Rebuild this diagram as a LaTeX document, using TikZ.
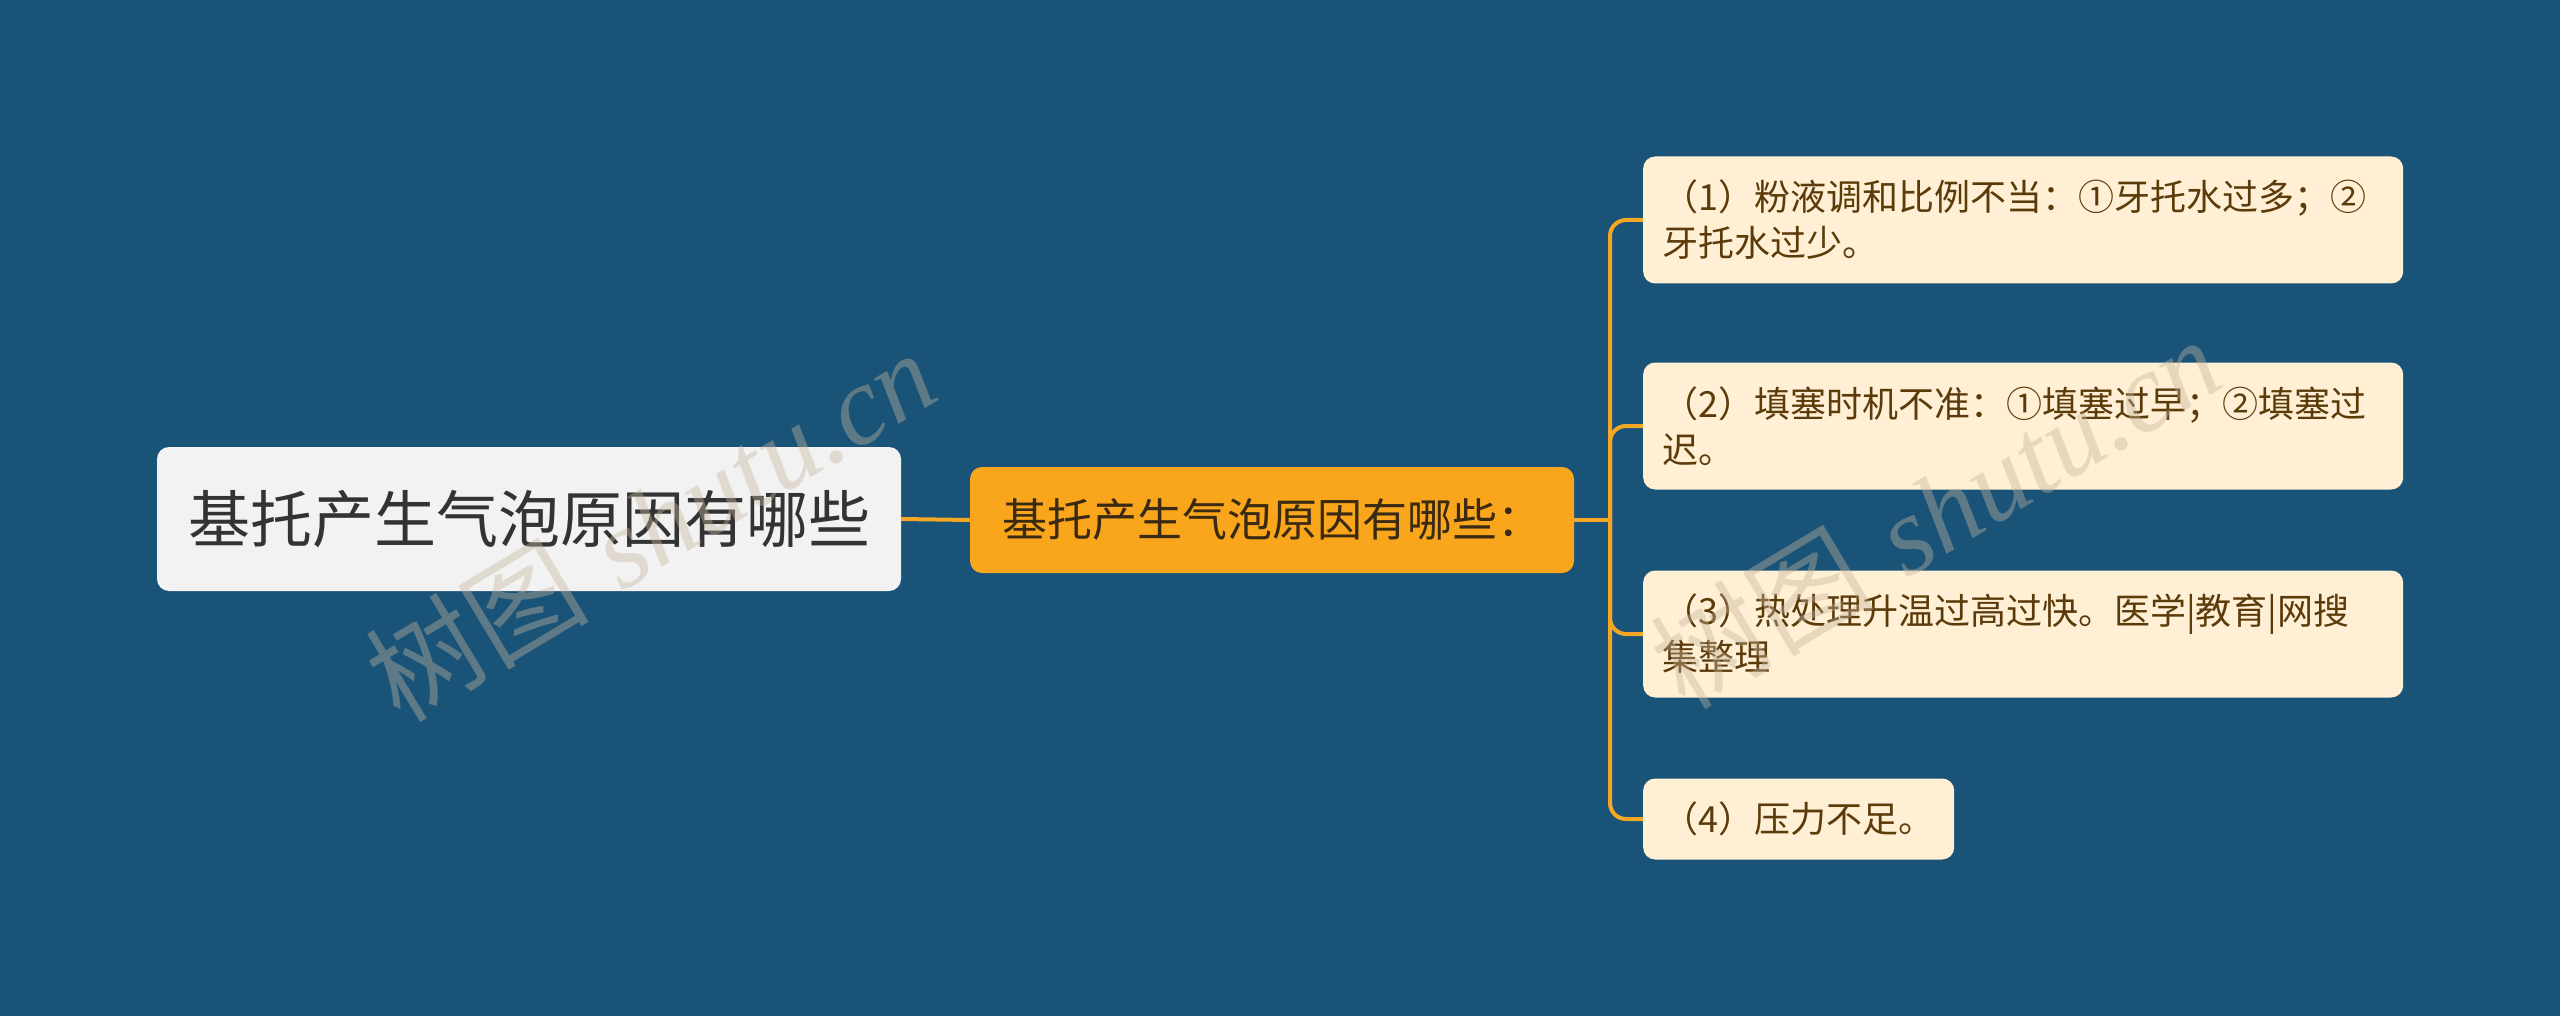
\documentclass[tikz,border=0pt]{standalone}
\usepackage{fontspec}
\newfontfamily\cjk{Noto Sans CJK SC}
\newfontfamily\wmfont{Liberation Serif}
\definecolor{bgblue}{HTML}{1A5378}
\definecolor{linkorange}{HTML}{F5A623}
\definecolor{rootfill}{HTML}{F2F2F2}
\definecolor{midfill}{HTML}{F9A61C}
\definecolor{leaffill}{HTML}{FFEFD4}
\definecolor{roottext}{HTML}{333333}
\definecolor{midtext}{HTML}{3A2A12}
\definecolor{leaftext}{HTML}{5C3B0B}
\definecolor{wmcolor}{HTML}{C4B59C}
\tikzset{
  rootbox/.style={fill=rootfill, rounded corners=12pt, inner sep=0pt,
    minimum width=744pt, minimum height=144pt, text=roottext,
    font=\cjk\fontsize{62pt}{70pt}\selectfont},
  midbox/.style={fill=midfill, rounded corners=12pt, inner sep=0pt,
    minimum width=604pt, minimum height=106pt, text=midtext,
    font=\cjk\fontsize{45pt}{52pt}\selectfont},
  leafbox/.style={fill=leaffill, rounded corners=12pt, inner xsep=19pt, inner ysep=0pt,
    anchor=west, minimum height=127pt, text=leaftext, align=left,
    font=\cjk\fontsize{36pt}{46pt}\selectfont},
  link/.style={draw=linkorange, line width=4pt},
  wm/.style={text=wmcolor, opacity=0.4, rotate=31, font=\fontsize{112pt}{112pt}\selectfont}
}
\begin{document}
\begin{tikzpicture}[x=1pt,y=-1pt]
\fill[bgblue] (0,0) rectangle (2560,1016);
\useasboundingbox (0,0) rectangle (2560,1016);

\node[rootbox] (root) at (529,519) {基托产生气泡原因有哪些};
\node[midbox] (mid) at (1272,520) {基托产生气泡原因有哪些：};

\node[leafbox, minimum width=760pt, text width=722pt] (c1) at (1643,220)
  {（1）粉液调和比例不当：①牙托水过多；②\\牙托水过少。};
\node[leafbox, minimum width=760pt, text width=722pt] (c2) at (1643,426)
  {（2）填塞时机不准：①填塞过早；②填塞过\\迟。};
\node[leafbox, minimum width=760pt, text width=722pt] (c3) at (1643,634)
  {（3）热处理升温过高过快。医学|教育|网搜\\集整理};
\node[leafbox, minimum width=311pt, minimum height=81pt] (c4) at (1643,819)
  {（4）压力不足。};

\coordinate (trunk) at (1610,520);
\draw[link] (root.east) -- (mid.west);
\draw[link] (mid.east) -- (trunk);
\foreach \c in {c1,c2,c3,c4}{
  \draw[link, rounded corners=16pt] (trunk) |- (\c.west);
}

\node[wm] (wm1) at (650,525) {{\cjk 树图} {\wmfont\itshape shutu.cn}};
\node[wm] (wm2) at (1935,512) {{\cjk 树图} {\wmfont\itshape shutu.cn}};
\end{tikzpicture}
\end{document}
